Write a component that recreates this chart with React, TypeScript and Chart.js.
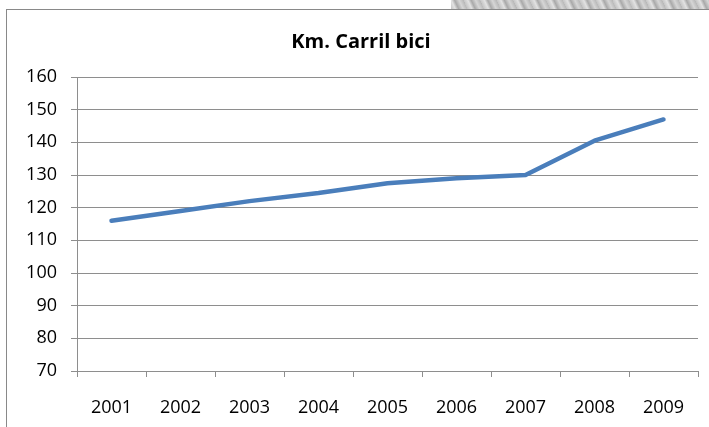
import React, { useEffect, useRef } from "react";
import { Chart, registerables } from "chart.js";

Chart.register(...registerables);

const title = "Km. Carril bici";
const years = ["2001", "2002", "2003", "2004", "2005", "2006", "2007", "2008", "2009"];
const kmValues = [116, 119, 122, 124.5, 127.5, 129, 130, 140.5, 147];
const yMin = 70;
const yMax = 160;
const yStep = 10;

const FONT = "'Open Sans', 'Liberation Sans', sans-serif";
const GRID = "#8e8e8e";

export default function App() {
  const ref = useRef<HTMLCanvasElement | null>(null);

  useEffect(() => {
    document.body.style.margin = "0";
    const ctx = ref.current;
    if (!ctx) return;
    const chart = new Chart(ctx, {
      type: "line",
      data: {
        labels: years,
        datasets: [
          {
            label: title,
            data: kmValues,
            borderColor: "#4a7ebb",
            backgroundColor: "#4a7ebb",
            borderWidth: 4.5,
            pointRadius: 0,
            tension: 0,
            borderCapStyle: "round",
            borderJoinStyle: "round",
          },
        ],
      },
      options: {
        responsive: false,
        animation: false,
        devicePixelRatio: 1,
        layout: { padding: { top: 0, right: 11, bottom: 0, left: 24 } },
        plugins: {
          legend: { display: false },
          tooltip: { enabled: false },
          title: {
            display: true,
            text: title,
            color: "#000",
            font: { family: FONT, size: 20, weight: "bold" },
            padding: { top: 30, bottom: 23 },
          },
        },
        scales: {
          x: {
            offset: true,
            afterFit: (scale: any) => {
              scale.height = 56;
            },
            grid: {
              offset: true,
              drawOnChartArea: false,
              drawTicks: true,
              tickLength: 6,
              color: GRID,
            },
            border: { display: true, color: GRID, width: 1 },
            ticks: {
              color: "#000",
              font: { family: FONT, size: 18 },
              padding: 20,
              maxRotation: 0,
            },
          },
          y: {
            min: yMin,
            max: yMax,
            afterFit: (scale: any) => {
              scale.width = 53;
            },
            grid: {
              color: GRID,
              tickLength: 6,
              drawTicks: true,
            },
            border: { display: true, color: GRID, width: 1 },
            ticks: {
              stepSize: yStep,
              color: "#000",
              font: { family: FONT, size: 18 },
              padding: 14,
            },
          },
        },
      },
    });
    return () => chart.destroy();
  }, []);

  return (
    <div style={{ position: "relative", width: 709, height: 427, overflow: "hidden", background: "#fff" }}>
      <div
        style={{
          position: "absolute",
          left: 451,
          top: 0,
          width: 258,
          height: 9,
          background:
            "repeating-linear-gradient(65deg, #c4c4c4 0px, #e2e2e2 4px, #a9a9a9 7px, #d6d6d6 11px, #b8b8b8 15px)",
        }}
      />
      <canvas ref={ref} width={709} height={427} style={{ position: "absolute", left: 0, top: 0 }} />
      <div
        style={{
          position: "absolute",
          left: 6,
          top: 9,
          width: 740,
          height: 440,
          border: "1px solid #898989",
          pointerEvents: "none",
        }}
      />
    </div>
  );
}
